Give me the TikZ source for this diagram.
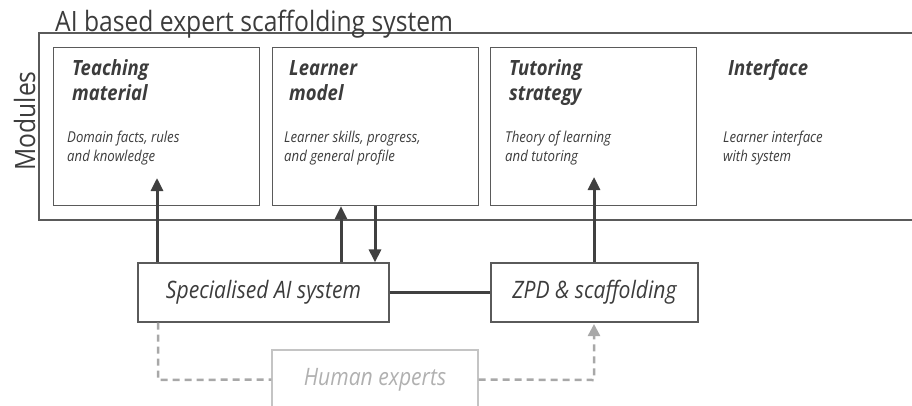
\documentclass[tikz,border=0pt]{standalone}
\usepackage{fontspec}
\setmainfont{Open Sans}[FakeStretch=0.88]
\usetikzlibrary{arrows.meta}

\definecolor{ink}{HTML}{3C3C3C}
\definecolor{frameline}{HTML}{5A5A5A}
\definecolor{flow}{HTML}{404040}
\definecolor{pale}{HTML}{C4C4C4}
\definecolor{paletext}{HTML}{B0B0B0}
\definecolor{dashline}{HTML}{A8A8A8}

\tikzset{
  modbox/.style={draw=frameline, line width=1.2pt, minimum width=206pt,
    minimum height=158pt, anchor=north west, inner sep=0pt},
  % text nodes are placed at the baseline of their last line
  modtitle/.style={anchor=base west, inner sep=0pt, text=ink,
    font=\fontsize{21}{25}\selectfont\bfseries\itshape, align=left},
  moddesc/.style={anchor=base west, inner sep=0pt, text=ink,
    font=\fontsize{15}{19}\selectfont\itshape, align=left},
  procbox/.style={draw=frameline, line width=1.2pt, minimum height=59pt,
    inner sep=0pt, text=ink, font=\fontsize{24}{26}\selectfont\itshape},
  flowarrow/.style={draw=flow, line width=3pt,
    -{Triangle[width=12pt,length=13pt]}},
  flowline/.style={draw=flow, line width=3pt},
  advice/.style={draw=dashline, line width=2.5pt, dash pattern=on 7pt off 5pt},
}

\begin{document}
\begin{tikzpicture}[x=1pt, y=-1pt]
\useasboundingbox (0,0) rectangle (912,405);
\clip (0,0) rectangle (912,405);

% outer frame of the whole system, open to the right
\draw[frameline, line width=1.4pt] (930,33) -- (39,33) -- (39,220) -- (930,220);
\node[anchor=base west, inner sep=0pt, text=ink,
  font=\fontsize{28}{30}\selectfont] (title) at (55,31)
  {AI based expert scaffolding system};
\node[anchor=base, rotate=90, inner sep=0pt, text=ink,
  font=\fontsize{28}{30}\selectfont] (modules) at (35,121) {Modules};

% module boxes
\node[modbox] (tm) at (53,47) {};
\node[modbox] (lm) at (272,47) {};
\node[modbox] (ts) at (490,47) {};

\node[modtitle] (tmT) at (72,100) {Teaching\\material};
\node[moddesc] (tmD) at (67,161) {Domain facts, rules\\and knowledge};
\node[modtitle] (lmT) at (289,100) {Learner\\model};
\node[moddesc] (lmD) at (284,161) {Learner skills, progress,\\and general profile};
\node[modtitle] (tsT) at (509,100) {Tutoring\\strategy};
\node[moddesc] (tsD) at (505,161) {Theory of learning\\and tutoring};
\node[modtitle] (ifT) at (728,75) {Interface};
\node[moddesc] (ifD) at (723,161) {Learner interface\\with system};

% processing boxes
\node[procbox, minimum width=251pt] (spec) at (263.5,292.5) {Specialised AI system};
\node[procbox, minimum width=207pt] (zpd) at (594.5,292.5) {ZPD \& scaffolding};
\node[procbox, minimum width=206pt, draw=pale, text=paletext] (human) at (375,379.5) {Human experts};

% arrow end points inside the module boxes
\coordinate (tmtip) at (157,178);
\coordinate (tstip) at (594,177);

% solid flows
\draw[flowarrow] (spec.north -| tmtip) -- (tmtip);
\draw[flowarrow] (spec.north -| 341,0) -- (lm.south -| 341,0);
\draw[flowarrow] (lm.south -| 375,0) -- (spec.north -| 375,0);
\draw[flowarrow] (zpd.north -| tstip) -- (tstip);
\draw[flowline] (spec.east) -- (zpd.west);

% dashed flows through the human experts
\coordinate (dl) at (158,380);
\coordinate (dr) at (594,380);
\coordinate (dtip) at (594,324);
\draw[advice] (spec.south -| dl) -- (dl) -- (human.west);
\draw[advice, -{Triangle[width=12pt,length=12pt]}] (human.east) -- (dr) -- (dtip);
\end{tikzpicture}
\end{document}
